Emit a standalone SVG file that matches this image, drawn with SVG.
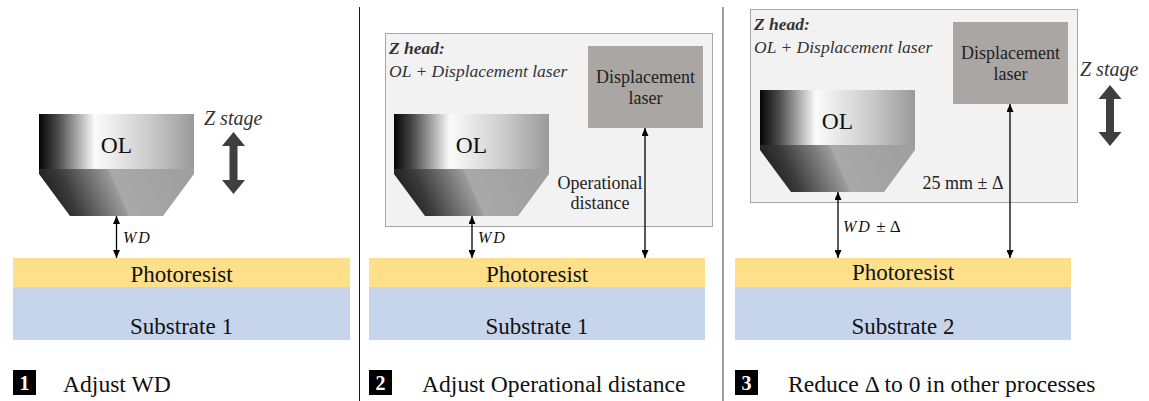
<svg xmlns="http://www.w3.org/2000/svg" width="1149" height="401" viewBox="0 0 1149 401" font-family="'Liberation Serif', 'DejaVu Serif', serif">
  <defs>
    <!-- objective lens shading, local coordinates (cylinder at 0,0 155x55) -->
    <linearGradient id="gCyl" gradientUnits="userSpaceOnUse" x1="0" y1="0" x2="155" y2="0">
      <stop offset="0" stop-color="#050505"/>
      <stop offset="0.12" stop-color="#4a4a4a"/>
      <stop offset="0.36" stop-color="#fbfbfb"/>
      <stop offset="0.7" stop-color="#cdcdcd"/>
      <stop offset="1" stop-color="#9a9a9a"/>
    </linearGradient>
    <linearGradient id="gCone" gradientUnits="userSpaceOnUse" x1="0" y1="78" x2="120" y2="25">
      <stop offset="0" stop-color="#1a1a1a"/>
      <stop offset="0.2" stop-color="#3a3a3a"/>
      <stop offset="0.545" stop-color="#9a9a9a"/>
      <stop offset="0.56" stop-color="#a9a9a9"/>
      <stop offset="1" stop-color="#a0a0a0"/>
    </linearGradient>
    <marker id="tip" viewBox="0 0 8 7" refX="8" refY="3.5" markerWidth="8" markerHeight="7" markerUnits="userSpaceOnUse" orient="auto-start-reverse">
      <path d="M0,0 L8,3.5 L0,7 z" fill="#000"/>
    </marker>
    <g id="lens">
      <rect x="0" y="0" width="155" height="55" fill="url(#gCyl)"/>
      <polygon points="0,55 155,55 155,60 124,102 31,102 0,60" fill="url(#gCone)"/>
    </g>
  </defs>
  <style>
    text { font-family: "Liberation Serif", "DejaVu Serif", serif; }
    .lbl { font-size: 23px; fill: #111; text-anchor: middle; }
    .ol { font-size: 23.5px; fill: #111; text-anchor: middle; }
    .it { font-style: italic; }
    .math { font-style: italic; font-size: 16px; fill: #111; }
    .small { font-size: 18px; fill: #222; text-anchor: middle; }
    .head { font-size: 17.5px; fill: #333; }
    .zst { font-size: 20px; fill: #333; font-style: italic; }
    .resist { fill: #fee08b; }
    .subst { fill: #c6d4ec; }
    .frame { fill: #f2f2f2; stroke: #555; stroke-width: 1; stroke-dasharray: 1 1; }
    .laser { fill: #aaa6a4; }
    .dim { stroke: #000; stroke-width: 1.3; fill: none; marker-start: url(#tip); marker-end: url(#tip); }
    .zarrow { fill: #3f3f3f; }
    .step { fill: #000; }
    .stepnum { font-size: 20px; font-weight: bold; fill: #fff; text-anchor: middle; }
    .caption { font-size: 23.6px; fill: #111; }
  </style>

  <!-- panel separators -->
  <line x1="359.5" y1="7" x2="359.5" y2="401" stroke="#1a1a1a" stroke-width="1"/>
  <line x1="723" y1="7" x2="723" y2="401" stroke="#808080" stroke-width="1.5"/>

  <!-- ===== panel 1 ===== -->
  <g id="p1-substrate">
    <rect class="resist" x="13" y="258" width="337" height="29"/>
    <rect class="subst" x="13" y="287" width="337" height="53"/>
    <text class="lbl" x="181.5" y="282">Photoresist</text>
    <text class="lbl" x="181.5" y="334">Substrate 1</text>
  </g>
  <g id="p1-ol" transform="translate(39,114)">
    <use href="#lens"/>
    <text class="ol" x="77.5" y="39">OL</text>
  </g>
  <g id="p1-zstage">
    <text class="zst" x="204" y="125">Z stage</text>
    <polygon class="zarrow" points="233.5,132 245,146 237.5,146 237.5,180 245,180 233.5,194 222,180 229.5,180 229.5,146 222,146"/>
  </g>

  <!-- ===== panel 2 ===== -->
  <g id="p2-substrate">
    <rect class="resist" x="369" y="258" width="336" height="29"/>
    <rect class="subst" x="369" y="287" width="336" height="53"/>
    <text class="lbl" x="537" y="282">Photoresist</text>
    <text class="lbl" x="537" y="334">Substrate 1</text>
  </g>
  <g id="p2-zhead">
    <rect class="frame" x="385.5" y="33.5" width="327" height="193"/>
    <text class="head it" x="389" y="54" font-weight="bold" fill="#111">Z head:</text>
    <text class="head it" x="389" y="77">OL + Displacement laser</text>
  </g>
  <g id="p2-laser">
    <rect class="laser" x="588" y="46" width="115" height="82"/>
    <text class="small" x="645.5" y="83">Displacement</text>
    <text class="small" x="645.5" y="104">laser</text>
  </g>
  <g id="p2-ol" transform="translate(394,114)">
    <use href="#lens"/>
    <text class="ol" x="77.5" y="39">OL</text>
  </g>

  <!-- ===== panel 3 ===== -->
  <g id="p3-substrate">
    <rect class="resist" x="735" y="258" width="336" height="29"/>
    <rect class="subst" x="735" y="287" width="336" height="53"/>
    <text class="lbl" x="903" y="280">Photoresist</text>
    <text class="lbl" x="903" y="334">Substrate 2</text>
  </g>
  <g id="p3-zhead">
    <rect class="frame" x="750.5" y="9.5" width="327" height="193"/>
    <text class="head it" x="754" y="30" font-weight="bold" fill="#111">Z head:</text>
    <text class="head it" x="754" y="53">OL + Displacement laser</text>
  </g>
  <g id="p3-laser">
    <rect class="laser" x="953" y="22" width="115" height="82"/>
    <text class="small" x="1010.5" y="59">Displacement</text>
    <text class="small" x="1010.5" y="80">laser</text>
  </g>
  <g id="p3-ol" transform="translate(760,90)">
    <use href="#lens"/>
    <text class="ol" x="77.5" y="39">OL</text>
  </g>
  <g id="p3-zstage">
    <text class="zst" x="1080" y="76">Z stage</text>
    <polygon class="zarrow" points="1110,85 1121.5,99 1114,99 1114,132 1121.5,132 1110,146 1098.5,132 1106,132 1106,99 1098.5,99"/>
  </g>

  <!-- ===== dimension connectors ===== -->
  <g id="connectors">
    <line class="dim" x1="116.5" y1="216" x2="116.5" y2="258"/>
    <line class="dim" x1="472" y1="216" x2="472" y2="258"/>
    <line class="dim" x1="645" y1="128" x2="645" y2="258"/>
    <line class="dim" x1="838" y1="192" x2="838" y2="258"/>
    <line class="dim" x1="1010" y1="104" x2="1010" y2="258"/>
  </g>
  <g id="connector-labels">
    <text class="math" x="123" y="243" letter-spacing="2">WD</text>
    <text class="math" x="478" y="243" letter-spacing="2">WD</text>
    <text class="math" x="843" y="232"><tspan letter-spacing="2">WD</tspan><tspan font-style="normal" font-size="17"> ± Δ</tspan></text>
    <text class="small" x="600" y="189">Operational</text>
    <text class="small" x="600" y="209">distance</text>
    <text class="small" x="963" y="189">25 mm ± Δ</text>
  </g>

  <!-- ===== step captions ===== -->
  <g id="step1">
    <rect class="step" x="13" y="370" width="23" height="25"/>
    <text class="stepnum" x="24.5" y="390">1</text>
    <text class="caption" x="63" y="392">Adjust WD</text>
  </g>
  <g id="step2">
    <rect class="step" x="369" y="370" width="23" height="25"/>
    <text class="stepnum" x="380.5" y="390">2</text>
    <text class="caption" x="422" y="392">Adjust Operational distance</text>
  </g>
  <g id="step3">
    <rect class="step" x="735" y="370" width="23" height="25"/>
    <text class="stepnum" x="746.5" y="390">3</text>
    <text class="caption" x="788" y="392">Reduce Δ to 0 in other processes</text>
  </g>
</svg>
